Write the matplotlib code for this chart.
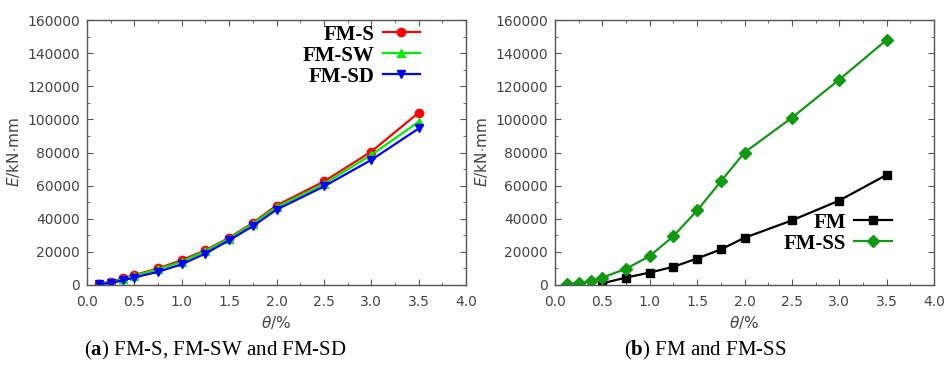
import matplotlib
matplotlib.use("Agg")
import matplotlib.pyplot as plt
from matplotlib.ticker import MultipleLocator

plt.rcParams["mathtext.fontset"] = "custom"
plt.rcParams["mathtext.bf"] = "Liberation Serif:bold"
plt.rcParams["mathtext.rm"] = "Liberation Serif"
plt.rcParams["mathtext.it"] = "DejaVu Sans:italic"

theta = [0.125, 0.25, 0.375, 0.5, 0.75, 1.0, 1.25, 1.5, 1.75, 2.0, 2.5, 3.0, 3.5]

fm_s = [800, 2000, 4000, 6000, 10000, 15000, 21000, 28500, 37500, 48000, 62500, 80500, 104000]
fm_sw = [700, 1800, 3500, 5500, 9500, 14000, 20500, 28000, 37000, 47000, 61000, 78500, 98500]
fm_sd = [500, 1200, 2800, 4500, 8000, 12500, 19000, 27000, 35500, 45500, 59500, 75500, 94500]

theta_fm = [0.5, 0.75, 1.0, 1.25, 1.5, 1.75, 2.0, 2.5, 3.0, 3.5]
fm = [1000, 4500, 7500, 11000, 16000, 21500, 28500, 39000, 51000, 66500]
fm_ss = [800, 1000, 2500, 4500, 9800, 17500, 29500, 45000, 62500, 80000, 101000, 124000, 148000]

x_ticks = [0.0, 0.5, 1.0, 1.5, 2.0, 2.5, 3.0, 3.5, 4.0]
y_ticks = [0, 20000, 40000, 60000, 80000, 100000, 120000, 140000, 160000]

captions = [("a", ") FM-S, FM-SW and FM-SD"), ("b", ") FM and FM-SS")]

fig = plt.figure(figsize=(9.44, 3.71), dpi=100)
ax1 = fig.add_axes([87 / 944, 1 - 285 / 371, 379 / 944, 265 / 371])
ax2 = fig.add_axes([555 / 944, 1 - 285 / 371, 379 / 944, 265 / 371])

tick_color = "#444444"
for ax in (ax1, ax2):
    ax.set_xlim(0, 4.0)
    ax.set_ylim(0, 160000)
    ax.set_xticks(x_ticks)
    ax.set_yticks(y_ticks)
    ax.set_xticklabels([f"{v:.1f}" for v in x_ticks])
    ax.set_yticklabels([str(v) for v in y_ticks])
    ax.xaxis.set_minor_locator(MultipleLocator(0.25))
    ax.yaxis.set_minor_locator(MultipleLocator(10000))
    ax.tick_params(which="both", direction="in", top=True, right=True,
                   labelsize=10, labelcolor=tick_color, color="#555555")
    ax.tick_params(which="major", length=4)
    ax.tick_params(which="minor", length=2)
    ax.tick_params(axis="x", pad=7)
    ax.tick_params(axis="y", pad=5)
    for s in ax.spines.values():
        s.set_color("#555555")
        s.set_linewidth(1.0)
    ax.set_xlabel(r"$\theta$/%", fontsize=11, color=tick_color, labelpad=4)
    ax.set_ylabel(r"$E$/kN$\cdot$mm", fontsize=11, color=tick_color, labelpad=4)

lw = 1.6
ax1.plot(theta, fm_s, color="#ff0000", marker="o", ms=6, lw=lw, label="FM-S")
ax1.plot(theta, fm_sw, color="#00ee00", marker="^", ms=6, lw=lw, label="FM-SW")
ax1.plot(theta, fm_sd, color="#0000ff", marker="v", ms=6, lw=lw, label="FM-SD")

ax2.plot(theta_fm, fm, color="#000000", marker="s", ms=6, lw=lw, label="FM")
ax2.plot(theta, fm_ss, color="#119911", marker="D", ms=6, lw=lw, label="FM-SS")

leg_font = {"family": "Liberation Serif", "weight": "bold", "size": 15}
ax1.legend(loc="upper right", bbox_to_anchor=(0.912, 1.03), frameon=False,
           markerfirst=False, prop=leg_font, handlelength=1.8,
           labelspacing=0.05, handletextpad=0.4, borderaxespad=0.2)
ax2.legend(loc="upper right", bbox_to_anchor=(0.922, 0.32), frameon=False,
           markerfirst=False, prop=leg_font, handlelength=1.8,
           labelspacing=0.05, handletextpad=0.4, borderaxespad=0.2)

for (letter, rest), cx in zip(captions, [215 / 944, 705 / 944]):
    fig.text(cx, 1 - 350 / 371, "(" + r"$\mathbf{" + letter + "}$" + rest,
             ha="center", va="center", fontsize=15, family="Liberation Serif")

fig.savefig("out.png", dpi=100)
